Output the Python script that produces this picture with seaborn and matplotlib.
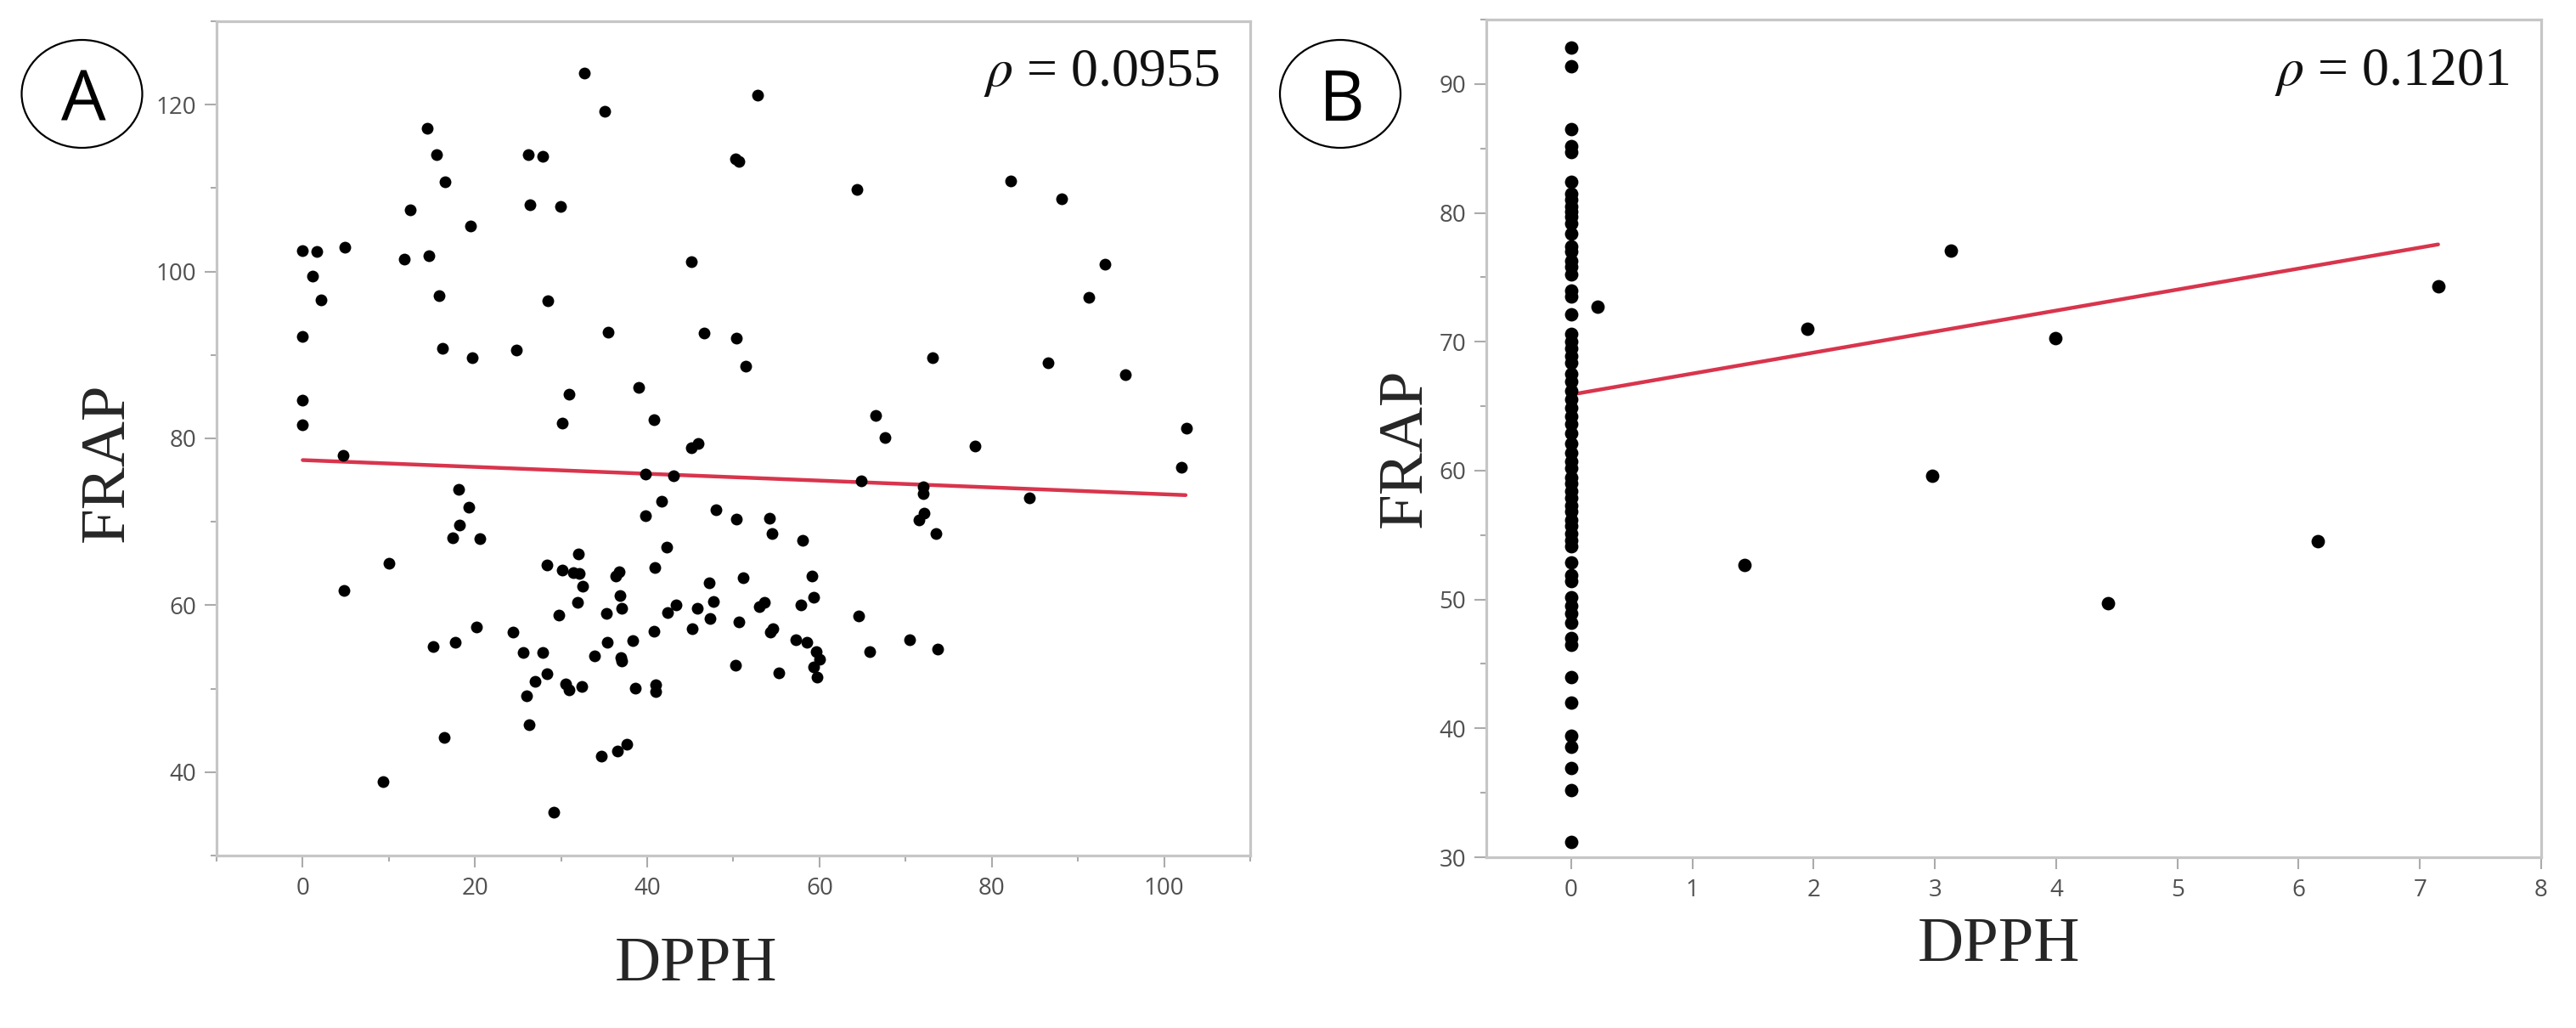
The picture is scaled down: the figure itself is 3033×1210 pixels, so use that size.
import numpy as np
import pandas as pd
import matplotlib
matplotlib.use("Agg")
import matplotlib.pyplot as plt
import seaborn as sns
from matplotlib.patches import Ellipse
from matplotlib.ticker import MultipleLocator

# ---- panel A data (DPPH vs FRAP) ----
dpph_a = [32.7, 35.1, 14.5, 15.5, 26.2, 27.9, 16.5, 12.5, 26.4, 29.9, 19.5, 0.0, 1.6, 4.9,
          11.8, 14.7, 1.1, 2.1, 15.8, 28.5, 45.1, 50.2, 50.6, 0.0, 16.2, 19.7, 24.8, 35.5,
          46.6, 50.3, 39.0, 30.9, 30.1, 40.8, 45.1, 45.9, 0.0, 0.0, 4.7, 39.8, 43.0,
          52.8, 64.3, 82.2, 88.1, 93.1, 91.3, 51.4, 73.1, 86.5, 95.5, 66.5, 67.6, 78.1,
          102.6, 102.0, 64.8, 72.0, 72.0, 84.4,
          50.3, 54.2, 54.5, 58.0, 72.1, 71.5, 73.5, 51.1, 59.1, 59.3, 53.6, 53.0, 57.8,
          50.6, 54.6, 54.3, 57.2, 58.5, 59.6, 60.0, 59.3, 59.7, 55.3, 50.2, 64.5, 65.8,
          70.5, 73.7,
          18.1, 19.3, 18.2, 17.4, 20.6, 10.0, 4.8, 39.8, 41.7, 48.0, 42.3, 32.0, 28.4,
          30.1, 31.4, 32.1, 36.7, 36.3, 40.9, 32.5, 31.9, 36.8, 37.0, 29.7, 35.3, 47.2,
          47.7, 42.4, 43.3, 45.8, 47.3, 45.2, 40.8, 20.2, 24.4, 15.1, 17.7, 25.6, 27.9,
          33.9, 35.4, 38.3, 36.9, 37.0, 28.4, 27.0, 26.0, 30.5, 30.9, 32.4, 38.6, 41.0,
          41.0, 26.3, 16.4, 34.7, 36.5, 37.6, 9.3, 29.1]
frap_a = [123.8, 119.2, 117.2, 114.0, 114.0, 113.8, 110.8, 107.4, 108.0, 107.8, 105.5, 102.5,
          102.4, 102.9, 101.5, 101.9, 99.4, 96.6, 97.1, 96.5, 101.2, 113.5, 113.2, 92.2,
          90.8, 89.7, 90.6, 92.7, 92.6, 92.0, 86.1, 85.3, 81.8, 82.2, 78.9, 79.4, 84.6,
          81.6, 78.0, 75.7, 75.5,
          121.1, 109.8, 110.9, 108.7, 100.9, 96.9, 88.7, 89.7, 89.1, 87.6, 82.8, 80.1,
          79.1, 81.2, 76.5, 74.9, 74.2, 73.4, 72.9,
          70.3, 70.4, 68.6, 67.8, 71.0, 70.2, 68.6, 63.3, 63.5, 61.0, 60.3, 59.8, 60.0,
          58.0, 57.2, 56.8, 55.9, 55.6, 54.4, 53.5, 52.6, 51.4, 51.9, 52.8, 58.7, 54.4,
          55.9, 54.7,
          73.9, 71.8, 69.6, 68.1, 68.0, 65.0, 61.8, 70.7, 72.5, 71.4, 67.0, 66.1, 64.8,
          64.2, 63.9, 63.8, 64.0, 63.5, 64.5, 62.3, 60.3, 61.2, 59.6, 58.8, 59.0, 62.7,
          60.4, 59.1, 60.0, 59.6, 58.4, 57.2, 56.9, 57.4, 56.8, 55.1, 55.6, 54.3, 54.3,
          53.9, 55.6, 55.8, 53.7, 53.3, 51.8, 50.9, 49.1, 50.6, 49.9, 50.3, 50.1, 50.5,
          49.7, 45.7, 44.2, 41.9, 42.5, 43.3, 38.9, 35.2]
fit_a_x = [0.0, 102.5]
fit_a_y = [77.4, 73.2]
rho_a = "0.0955"

# ---- panel B data ----
frap_b_zero = [92.8, 91.4, 86.5, 85.2, 84.7, 82.4, 81.5, 81.0, 80.5, 80.1, 79.7, 79.2, 78.4,
               77.4, 77.0, 76.3, 75.8, 75.2, 74.0, 73.5, 72.1, 70.6, 70.0, 69.5, 68.9, 68.4,
               67.5, 66.9, 66.2, 65.5, 64.9, 64.2, 63.6, 62.9, 62.1, 61.4, 60.7, 60.2, 59.5,
               59.0, 58.4, 57.9, 57.3, 56.8, 56.2, 55.7, 55.1, 54.6, 54.1, 52.9, 51.9, 51.4,
               50.2, 49.5, 48.9, 48.2, 47.0, 46.5, 44.0, 42.0, 39.4, 38.6, 36.9, 35.2, 31.2]
dpph_b_other = [0.22, 1.43, 1.95, 2.98, 3.13, 3.99, 4.43, 6.16, 7.15]
frap_b_other = [72.7, 52.7, 71.0, 59.6, 77.1, 70.3, 49.7, 54.5, 74.3]
fit_b_x = [0.0, 7.15]
fit_b_y = [65.9, 77.55]
rho_b = "0.1201"

df_a = pd.DataFrame({"DPPH": dpph_a, "FRAP": frap_a})
df_b = pd.DataFrame({"DPPH": [0.0] * len(frap_b_zero) + dpph_b_other,
                     "FRAP": frap_b_zero + frap_b_other})

sns.set_style("white")
plt.rcParams["font.family"] = ["Open Sans", "DejaVu Sans"]
plt.rcParams["mathtext.fontset"] = "stix"

W, H = 3033, 1210
fig = plt.figure(figsize=(W / 100, H / 100), dpi=100)

def px_box(l, t, r, b):
    return [l / W, 1 - b / H, (r - l) / W, (b - t) / H]

ax_a = fig.add_axes(px_box(255, 25, 1472, 1007))
ax_b = fig.add_axes(px_box(1750, 23, 2992, 1009))

line_col = "#d8354d"
spine_col = "#c6c6c6"
tick_col = "#ababab"
label_col = "#505050"

sns.scatterplot(data=df_a, x="DPPH", y="FRAP", ax=ax_a, color="black", s=100, linewidth=0, zorder=3)
sns.lineplot(x=fit_a_x, y=fit_a_y, ax=ax_a, color=line_col, linewidth=3.2, zorder=2)
sns.scatterplot(data=df_b, x="DPPH", y="FRAP", ax=ax_b, color="black", s=130, linewidth=0, zorder=3)
sns.lineplot(x=fit_b_x, y=fit_b_y, ax=ax_b, color=line_col, linewidth=3.2, zorder=2)

ax_a.set_xlim(-10, 110)
ax_a.set_ylim(30, 130)
ax_a.set_xticks(range(0, 101, 20))
ax_a.set_yticks(range(40, 121, 20))
ax_a.xaxis.set_minor_locator(MultipleLocator(10))
ax_a.yaxis.set_minor_locator(MultipleLocator(10))

ax_b.set_xlim(-0.7, 8)
ax_b.set_ylim(30, 95)
ax_b.set_xticks(range(0, 9))
ax_b.set_yticks(range(30, 91, 10))
ax_b.yaxis.set_minor_locator(MultipleLocator(5))

for ax in (ax_a, ax_b):
    ax.set_xlabel("")
    ax.set_ylabel("")
    for sp in ax.spines.values():
        sp.set_visible(True)
        sp.set_color(spine_col)
        sp.set_linewidth(2.3)
    ax.tick_params(which="major", direction="out", length=10, width=1.5, color=tick_col,
                   labelsize=20, labelcolor=label_col, pad=7,
                   bottom=True, left=True, top=False, right=False)
    ax.tick_params(which="minor", direction="out", length=5, width=1.5, color=tick_col,
                   bottom=True, left=True, top=False, right=False)
    ax.tick_params(axis="x", which="major", pad=8)

# axis titles
serif = ["Liberation Serif", "DejaVu Serif"]
fig.text(820 / W, 1 - 1154 / H, "DPPH", family=serif, fontsize=54, ha="center", va="baseline")
fig.text(2354 / W, 1 - 1131 / H, "DPPH", family=serif, fontsize=54, ha="center", va="baseline")
fig.text(145 / W, 1 - 544 / H, "FRAP", family=serif, fontsize=54, rotation=90,
         rotation_mode="anchor", ha="center", va="baseline")
fig.text(1673 / W, 1 - 527 / H, "FRAP", family=serif, fontsize=54, rotation=90,
         rotation_mode="anchor", ha="center", va="baseline")

# correlation notes
fig.text(1436 / W, 1 - 101 / H, r"$\rho$ = " + rho_a, family=serif, fontsize=46,
         ha="right", va="baseline", color="#111111")
fig.text(2955 / W, 1 - 100 / H, r"$\rho$ = " + rho_b, family=serif, fontsize=46,
         ha="right", va="baseline", color="#111111")

# circled panel letters
for cx, letter in ((96.5, "A"), (1578, "B")):
    fig.add_artist(Ellipse((cx / W, 1 - 110.5 / H), 142 / W, 127 / H,
                           transform=fig.transFigure, fill=False, edgecolor="black", lw=1.6))
    fig.text((cx + 1.5) / W, 1 - 142 / H, letter, fontsize=60, ha="center", va="baseline",
             color="black")

fig.savefig("out.png", dpi=100, facecolor="white")
